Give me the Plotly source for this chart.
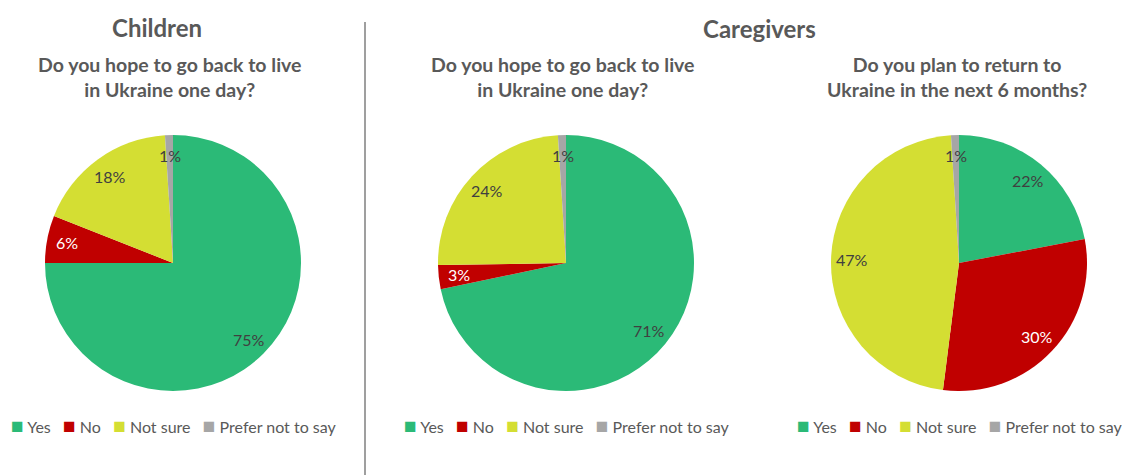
import math
import plotly.graph_objects as go

# Survey answers (percent of respondents)
categories = ["Yes", "No", "Not sure", "Prefer not to say"]
children_hope_return = [75, 6, 18, 1]
caregivers_hope_return = [71, 3, 24, 1]
caregivers_plan_6_months = [22, 30, 47, 1]

section_titles = ["Children", "Caregivers"]
question_titles = [
    "Do you hope to go back to live<br>in Ukraine one day?",
    "Do you hope to go back to live<br>in Ukraine one day?",
    "Do you plan to return to<br>Ukraine in the next 6 months?",
]

colors = ["#2BBA77", "#C00000", "#D4DE33", "#A6A6A6"]
label_colors = ["#404040", "#FFFFFF", "#404040", "#404040"]

W, H = 1122, 475
FONT = "Lato, 'Open Sans', sans-serif"
TITLE_COLOR = "#595959"

# pie geometry in pixels: centres and radius
centres = [(173, 263), (566, 263), (959, 263)]
radius = 128
legend_left = [9, 402, 795]
question_x = [170, 563, 957]


def px_x(x):
    return x / W


def px_y(y):
    return 1 - y / H


fig = go.Figure()
annotations = []

series = [children_hope_return, caregivers_hope_return, caregivers_plan_6_months]
for (cx, cy), values in zip(centres, series):
    fig.add_trace(go.Pie(
        labels=categories,
        values=values,
        sort=False,
        direction="clockwise",
        rotation=0,
        marker=dict(colors=colors, line=dict(width=0)),
        textinfo="none",
        hoverinfo="label+value",
        showlegend=False,
        domain=dict(x=[px_x(cx - radius), px_x(cx + radius)],
                    y=[px_y(cy + radius), px_y(cy - radius)]),
    ))
    # value labels placed along each slice's mid angle
    total = sum(values)
    cum = 0
    for v, lc in zip(values, label_colors):
        mid = (cum + v / 2) / total * 2 * math.pi
        cum += v
        lx = cx + 0.84 * radius * math.sin(mid)
        ly = cy - 0.84 * radius * math.cos(mid)
        annotations.append(dict(
            x=px_x(lx), y=px_y(ly), xref="paper", yref="paper",
            text=f"{v}%", showarrow=False,
            font=dict(family=FONT, size=16, color=lc),
            xanchor="center", yanchor="middle",
        ))

# section headings
annotations.append(dict(x=px_x(157), y=px_y(27), xref="paper", yref="paper",
                        text=f"<b>{section_titles[0]}</b>", showarrow=False,
                        font=dict(family=FONT, size=24, color=TITLE_COLOR),
                        xanchor="center", yanchor="middle"))
annotations.append(dict(x=px_x(759), y=px_y(29), xref="paper", yref="paper",
                        text=f"<b>{section_titles[1]}</b>", showarrow=False,
                        font=dict(family=FONT, size=24, color=TITLE_COLOR),
                        xanchor="center", yanchor="middle"))

# question headings
for qx, q in zip(question_x, question_titles):
    annotations.append(dict(x=px_x(qx), y=px_y(77), xref="paper", yref="paper",
                            text=f"<b>{q}</b>", showarrow=False,
                            font=dict(family=FONT, size=19.5, color=TITLE_COLOR),
                            xanchor="center", yanchor="middle"))

# legends under each pie
gap = "\u00a0" * 3
legend_text = gap.join(
    f"<span style='color:{c};font-size:21px'>■</span>\u00a0{cat}"
    for c, cat in zip(colors, categories)
)
for lx in legend_left:
    annotations.append(dict(x=px_x(lx), y=px_y(424), xref="paper", yref="paper",
                            text=legend_text, showarrow=False,
                            font=dict(family=FONT, size=16, color=TITLE_COLOR),
                            xanchor="left", yanchor="middle"))

fig.update_layout(
    width=W, height=H,
    margin=dict(l=0, r=0, t=0, b=0),
    paper_bgcolor="white",
    plot_bgcolor="white",
    annotations=annotations,
    shapes=[dict(type="line", xref="paper", yref="paper",
                 x0=px_x(365), x1=px_x(365), y0=px_y(22), y1=0,
                 line=dict(color="#7F7F7F", width=1.5))],
)

fig.write_html("out.html")
